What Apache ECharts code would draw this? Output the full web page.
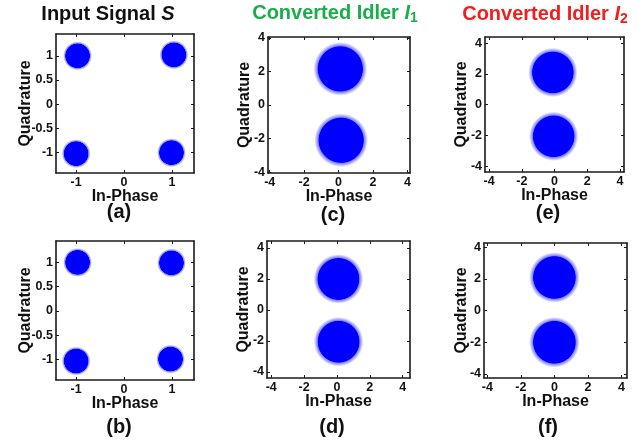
<!DOCTYPE html>
<html>
<head>
<meta charset="utf-8">
<script src="https://cdn.jsdelivr.net/npm/echarts@6/dist/echarts.min.js"></script>
<style>
  html, body { margin: 0; padding: 0; background: #fff; }
  #main { width: 638px; height: 445px; }
</style>
</head>
<body>
<div id="main"></div>
<script>
// tick labels
var ticksSigX = [-1, 0, 1];
var ticksSigY = [-1, -0.5, 0, 0.5, 1];
var ticksIdl = [-4, -2, 0, 2, 4];

// cluster centres (in-phase, quadrature)
var clustersA = [[-0.97, 1.0], [1.04, 1.02], [-1.0, -1.02], [0.99, -1.0]];
var clustersB = [[-0.97, 1.0], [0.99, 0.99], [-1.0, -1.03], [0.97, -0.99]];
var clustersC = [[0.1, 2.15], [0.15, -2.1]];
var clustersD = [[0.09, 2.0], [0.1, -2.05]];
var clustersE = [[-0.1, 2.1], [-0.05, -2.05]];
var clustersF = [[0.0, 2.1], [0.0, -2.0]];

// noise spread of each cluster: dense core radius, outer radius (data units)
var spreadSig = [0.25, 0.3];
var spreadIdl = [1.32, 1.6];

var FONT = 'Arial, "Liberation Sans", Helvetica, sans-serif';

var panels = [
  {grid: {left: 56, top: 34, width: 138, height: 139}, x: [-1.42, 1.46], y: [-1.42, 1.45], xt: ticksSigX, yt: ticksSigY, pts: clustersA, spread: spreadSig, qGap: 22},
  {grid: {left: 268, top: 37, width: 142, height: 136}, x: [-4.1, 4.15], y: [-4.05, 4.05], xt: ticksIdl, yt: ticksIdl, pts: clustersC, spread: spreadIdl, qGap: 15},
  {grid: {left: 485, top: 37, width: 139, height: 135}, x: [-4.25, 4.25], y: [-4.37, 4.4], xt: ticksIdl, yt: ticksIdl, pts: clustersE, spread: spreadIdl, qGap: 15},
  {grid: {left: 56, top: 241, width: 138, height: 139}, x: [-1.42, 1.46], y: [-1.42, 1.44], xt: ticksSigX, yt: ticksSigY, pts: clustersB, spread: spreadSig, qGap: 22},
  {grid: {left: 267, top: 241, width: 143, height: 137}, x: [-4.26, 4.45], y: [-4.39, 4.45], xt: ticksIdl, yt: ticksIdl, pts: clustersD, spread: spreadIdl, qGap: 15},
  {grid: {left: 484, top: 243, width: 143, height: 135}, x: [-4.2, 4.33], y: [-4.26, 4.28], xt: ticksIdl, yt: ticksIdl, pts: clustersF, spread: spreadIdl, qGap: 14}
];

function renderBlob(params, api) {
  var c = api.coord([api.value(0), api.value(1)]);
  var core = api.value(2), outer = api.value(3);
  var s = api.size([outer, outer]);
  var k = core / outer;
  return {
    type: 'ellipse',
    shape: {cx: c[0], cy: c[1], rx: s[0], ry: s[1]},
    style: {
      fill: {
        type: 'radial', x: 0.5, y: 0.5, r: 0.5,
        colorStops: [
          {offset: 0, color: 'rgba(0,0,255,1)'},
          {offset: k, color: 'rgba(0,0,255,1)'},
          {offset: k + 0.03, color: 'rgba(0,0,255,0.5)'},
          {offset: 1, color: 'rgba(0,0,255,0)'}
        ]
      }
    }
  };
}

var grids = [], xAxes = [], yAxes = [], series = [];
var tickLabel = {color: '#111', fontSize: 12.5, fontWeight: 'bold', fontFamily: FONT, margin: 3};
var nameText = {color: '#111', fontSize: 16, fontWeight: 'bold', fontFamily: FONT};
var line = {show: true, onZero: false, lineStyle: {color: '#1a1a1a', width: 1.6}};
var tick = function (vals) {
  return {show: true, inside: true, length: 3, customValues: vals, lineStyle: {color: '#1a1a1a'}};
};

panels.forEach(function (p, i) {
  grids.push(p.grid);
  // main axes
  xAxes.push({
    gridIndex: i, type: 'value', min: p.x[0], max: p.x[1], position: 'bottom',
    axisLine: line, splitLine: {show: false}, axisTick: tick(p.xt),
    axisLabel: Object.assign({customValues: p.xt}, tickLabel),
    name: 'In-Phase', nameLocation: 'middle', nameGap: 16, nameMoveOverlap: false,
    nameTextStyle: nameText
  });
  yAxes.push({
    gridIndex: i, type: 'value', min: p.y[0], max: p.y[1], position: 'left',
    axisLine: line, splitLine: {show: false}, axisTick: tick(p.yt),
    axisLabel: Object.assign({customValues: p.yt}, tickLabel),
    name: 'Quadrature', nameLocation: 'middle', nameGap: p.qGap, nameRotate: 90,
    nameMoveOverlap: false, nameTextStyle: nameText
  });
  // box edges top / right
  xAxes.push({
    gridIndex: i, type: 'value', min: p.x[0], max: p.x[1], position: 'top',
    axisLine: line, splitLine: {show: false}, axisTick: tick(p.xt),
    axisLabel: {show: false}
  });
  yAxes.push({
    gridIndex: i, type: 'value', min: p.y[0], max: p.y[1], position: 'right',
    axisLine: line, splitLine: {show: false}, axisTick: tick(p.yt),
    axisLabel: {show: false}
  });
  series.push({
    type: 'custom',
    xAxisIndex: i * 2, yAxisIndex: i * 2,
    renderItem: renderBlob,
    clip: true,
    silent: true,
    data: p.pts.map(function (d) { return [d[0], d[1], p.spread[0], p.spread[1]]; })
  });
});

function label(txt, x, y, color, rich) {
  return {
    type: 'text', x: x, y: y, silent: true,
    style: {
      text: txt, fill: color, align: 'center', verticalAlign: 'middle',
      fontSize: 20, fontWeight: 'bold', fontFamily: FONT, rich: rich
    }
  };
}

var titleRich = {
  n: {fontSize: 20, fontWeight: 'bold', fontFamily: FONT, lineHeight: 24},
  i: {fontSize: 20, fontWeight: 'bold', fontStyle: 'italic', fontFamily: FONT, lineHeight: 24},
  s: {fontSize: 14, fontWeight: 'bold', fontFamily: FONT, lineHeight: 10, verticalAlign: 'bottom'}
};

var chart = echarts.init(document.getElementById('main'));
chart.setOption({
  animation: false,
  backgroundColor: '#fff',
  grid: grids,
  xAxis: xAxes,
  yAxis: yAxes,
  series: series,
  graphic: [
    label('{n|Input Signal }{i|S}', 108, 14, '#111', titleRich),
    label('{n|Converted Idler }{i|I}{s|1}', 335, 13, '#19ae4a', titleRich),
    label('{n|Converted Idler }{i|I}{s|2}', 545, 14, '#f01e1e', titleRich),
    label('(a)', 119, 212, '#111'),
    label('(c)', 333, 215, '#111'),
    label('(e)', 548, 213, '#111'),
    label('(b)', 119, 427, '#111'),
    label('(d)', 332, 427, '#111'),
    label('(f)', 548, 427, '#111')
  ]
});
</script>
</body>
</html>
